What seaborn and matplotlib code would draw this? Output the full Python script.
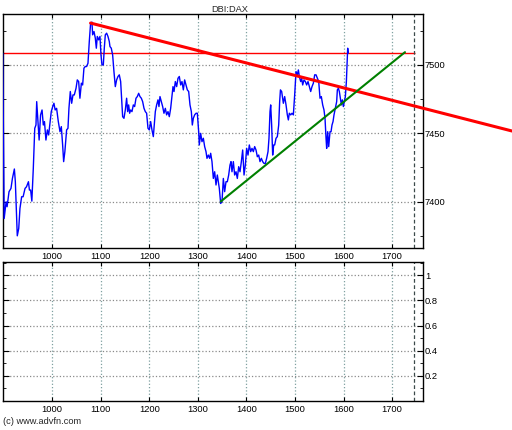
import numpy as np
import pandas as pd
import seaborn as sns
import matplotlib.pyplot as plt
from matplotlib.ticker import FixedLocator, MultipleLocator

# DBI:DAX intraday price path (x = bar number, y = index level)
price_x = [898, 901, 905, 907, 911, 915, 918, 922, 924, 927, 928, 931, 933.5, 937, 940, 944, 947, 951, 953, 955.5,
           958, 961, 964, 966.5, 968, 970.6, 973, 976, 979, 981.6, 984, 987, 990, 992.6, 995, 998, 1001, 1003.5,
           1006, 1009, 1012.5, 1016, 1018.7, 1021.4, 1023.5, 1026, 1029.6, 1032.4, 1034.4, 1037.2, 1040, 1042.7,
           1045.4, 1049, 1051.6, 1054.4, 1057, 1060, 1062.6, 1065.3, 1068, 1070.8, 1073.6, 1076.3, 1079, 1081.8,
           1083.2, 1086, 1088.7, 1090.8, 1092.8, 1095.6, 1098.3, 1100.4, 1102.4, 1105.2, 1107.2, 1109.3, 1112,
           1114.8, 1117.5, 1118.9, 1121.6, 1124.4, 1127.1, 1129.9, 1132.6, 1135.4, 1138.1, 1140.9, 1142.9, 1145,
           1147.7, 1150.5, 1153.2, 1155.3, 1157.4, 1159.4, 1161.5, 1164.2, 1167, 1169.7, 1172.5, 1175.2, 1178,
           1180.7, 1183.5, 1186.2, 1189, 1191.7, 1194.4, 1197.2, 1199.9, 1202.7, 1205.4, 1208.2, 1210.2, 1212.3,
           1215, 1217.8, 1219.8, 1221.9, 1224.7, 1227.4, 1230.1, 1232.9, 1235.6, 1238.4, 1241.1, 1243.9, 1246.6,
           1248.7, 1250.8, 1253.5, 1256.2, 1259, 1261.7, 1264.5, 1267.2, 1270, 1272.7, 1275.5, 1278.2, 1281,
           1283.7, 1286.5, 1288.5, 1290.6, 1293.3, 1296.1, 1298.8, 1301.6, 1302.9, 1305.7, 1308.4, 1311.2, 1313.9,
           1316.7, 1318.7, 1321.5, 1324.2, 1326.3, 1329, 1331.8, 1334.5, 1337.3, 1340, 1342.1, 1344.1, 1346.9,
           1349.6, 1352.4, 1355.1, 1357.9, 1360.6, 1363.4, 1366.1, 1368.2, 1370.2, 1373, 1375.7, 1378.5, 1381.2,
           1384, 1386.7, 1389.5, 1392.2, 1395, 1397.7, 1400.4, 1403.2, 1405.9, 1408.7, 1411.4, 1414.2, 1416.9,
           1419.7, 1422.4, 1425.2, 1427.9, 1430.7, 1433.4, 1436.1, 1438.9, 1441.6, 1444.4, 1446.4, 1448.5, 1449.9,
           1451.9, 1454, 1456.1, 1458.1, 1460.9, 1463.6, 1466.4, 1468.4, 1470, 1472.5, 1476, 1478.7, 1481.5,
           1484.2, 1486.3, 1488.3, 1491.1, 1493.8, 1496.6, 1499.3, 1502.1, 1504.8, 1506.9, 1508.9, 1511.7, 1513.7,
           1515.8, 1518.5, 1521.3, 1524, 1526.8, 1529.5, 1532.3, 1535, 1537.8, 1540.5, 1543.3, 1546, 1548.8,
           1551.5, 1554.2, 1557, 1559.7, 1561.8, 1563.9, 1565.2, 1567.3, 1569.4, 1572.1, 1574.2, 1576.2, 1578.3,
           1580.3, 1583.1, 1585.8, 1587.2, 1589.3, 1591.3, 1593.4, 1595.5, 1597.5, 1599.6, 1601.6, 1603.7, 1605.8,
           1607.1, 1608.5, 1609.5]
price_y = [7508.5, 7387.6, 7399.8, 7396.2, 7407.2, 7409.6, 7416.9, 7423.8, 7414.5, 7385.2, 7374.9, 7380.3, 7394.9,
           7403.5, 7403.5, 7409.6, 7410.8, 7414.5, 7408.4, 7408.4, 7400.3, 7424.3, 7453.6, 7456.0, 7473.1, 7458.5,
           7445.0, 7463.4, 7467.0, 7456.0, 7458.5, 7445.0, 7452.4, 7448.7, 7456.0, 7465.8, 7469.5, 7471.9, 7467.0,
           7468.2, 7458.5, 7451.1, 7454.8, 7441.4, 7429.2, 7436.5, 7452.4, 7453.6, 7468.2, 7480.5, 7471.9, 7478.0,
           7478.0, 7482.9, 7489.0, 7487.8, 7475.6, 7486.6, 7485.3, 7497.6, 7498.8, 7498.8, 7501.2, 7517.1, 7530.5,
           7531.3, 7522.0, 7524.4, 7519.6, 7512.2, 7520.8, 7518.3, 7520.8, 7507.3, 7500.0, 7500.0, 7512.2, 7522.0,
           7523.2, 7520.8, 7517.1, 7513.4, 7512.2, 7507.3, 7495.1, 7484.1, 7489.0, 7491.5, 7492.7, 7487.8, 7475.6,
           7462.1, 7460.9, 7467.0, 7475.6, 7465.8, 7470.7, 7464.6, 7467.0, 7465.8, 7470.7, 7469.5, 7475.6, 7476.8,
           7479.2, 7476.8, 7475.6, 7473.1, 7468.2, 7465.8, 7464.6, 7453.6, 7452.4, 7458.5, 7452.4, 7447.5, 7456.0,
           7465.8, 7470.7, 7474.4, 7469.5, 7476.8, 7473.1, 7469.5, 7464.6, 7468.2, 7463.4, 7465.8, 7462.1, 7468.2,
           7476.8, 7484.1, 7480.5, 7487.8, 7484.1, 7490.2, 7491.5, 7485.3, 7487.8, 7481.7, 7489.0, 7485.3, 7481.7,
           7480.5, 7470.7, 7465.8, 7456.0, 7460.9, 7463.4, 7464.6, 7464.6, 7451.1, 7441.4, 7449.9, 7443.8, 7446.3,
           7440.2, 7436.5, 7431.6, 7434.0, 7431.6, 7435.3, 7429.2, 7416.9, 7421.8, 7412.1, 7419.4, 7414.5, 7409.6,
           7398.6, 7399.8, 7416.9, 7407.2, 7414.5, 7414.5, 7419.4, 7426.7, 7429.2, 7421.8, 7429.2, 7419.4, 7421.8,
           7416.9, 7425.5, 7421.8, 7429.2, 7437.7, 7419.4, 7426.7, 7438.9, 7434.0, 7441.4, 7436.5, 7438.9, 7436.5,
           7440.2, 7437.7, 7432.8, 7434.0, 7429.2, 7431.6, 7429.2, 7427.9, 7427.9, 7431.6, 7436.5, 7446.3, 7465.8,
           7470.7, 7456.0, 7434.0, 7441.4, 7441.4, 7446.3, 7447.5, 7456.0, 7473.1, 7481.7, 7480.5, 7471.9, 7476.8,
           7470.7, 7463.4, 7459.7, 7464.6, 7463.4, 7464.6, 7463.4, 7478.0, 7495.1, 7492.7, 7496.3, 7491.5, 7487.8,
           7490.2, 7485.3, 7489.0, 7487.8, 7485.3, 7487.8, 7484.1, 7480.5, 7484.1, 7486.6, 7492.7, 7492.7, 7490.2,
           7487.8, 7475.6, 7476.8, 7470.7, 7467.0, 7460.9, 7446.3, 7438.9, 7451.1, 7440.2, 7451.1, 7451.1, 7456.0,
           7458.5, 7463.4, 7468.2, 7473.1, 7481.7, 7482.9, 7480.5, 7475.6, 7470.7, 7474.4, 7469.5, 7473.1, 7476.8,
           7487.8, 7500.0, 7512.2, 7508.6]

# trend lines (endpoints) and reference levels
resist_x = [1079, 1947]
resist_y = [7530.6, 7451.6]
support_x = [1347, 1726.5]
support_y = [7400, 7509.3]
last_price = 7508.6
end_bar = 1745.6

x_ticks = [1000, 1100, 1200, 1300, 1400, 1500, 1600, 1700]
price_ticks = [7400, 7450, 7500]
lower_ticks = [0.2, 0.4, 0.6, 0.8, 1.0]
lower_labels = ['0.2', '0.4', '0.6', '0.8', '1']

sns.set_style("white")
plt.rcParams['font.family'] = ['Liberation Sans', 'DejaVu Sans']
fs = 6.7

fig = plt.figure(figsize=(5.12, 4.3), dpi=100)
ax1 = fig.add_axes([0.0053, 0.4233, 0.8203, 0.5434])
ax2 = fig.add_axes([0.0053, 0.0674, 0.8203, 0.3226])

df = pd.DataFrame({'bar': price_x, 'price': price_y})
sns.lineplot(data=df, x='bar', y='price', ax=ax1, color='#0000ff', lw=1.0,
             estimator=None, sort=False, zorder=3)
sns.lineplot(x=resist_x, y=resist_y, ax=ax1, color='#ff0000', lw=2.2,
             estimator=None, clip_on=False, zorder=4)
sns.lineplot(x=support_x, y=support_y, ax=ax1, color='#008000', lw=1.5,
             estimator=None, zorder=4)
ax1.hlines(last_price, price_x[0], 1747, color='#ff0000', lw=1.0, zorder=2)

for ax in (ax1, ax2):
    ax.set_xlim(898, 1763)
    ax.xaxis.set_major_locator(FixedLocator(x_ticks))
    ax.axvline(end_bar, color='#3c4a4a', ls=(0, (3, 2)), lw=0.9, zorder=2)
    ax.xaxis.grid(True, ls=':', color='#7fa0a0', lw=0.9)
    ax.yaxis.grid(True, ls=':', color='#8a8a8a', lw=0.9)
    ax.tick_params(which='both', direction='in', top=True, bottom=True, left=True, right=True,
                   labelleft=False, labelright=True, labelsize=fs, colors='black')
    ax.tick_params(axis='x', which='major', length=3, pad=3)
    ax.tick_params(axis='y', which='major', length=4, pad=1.5)
    ax.tick_params(axis='y', which='minor', length=2.5)
    ax.set_xlabel('')
    ax.set_ylabel('')
    for sp in ax.spines.values():
        sp.set_visible(True)
        sp.set_color('black')
        sp.set_linewidth(1.0)

ax1.set_ylim(7366, 7537)
ax1.yaxis.set_major_locator(FixedLocator(price_ticks))
ax1.yaxis.set_minor_locator(MultipleLocator(25))

ax2.set_ylim(0, 1.104)
ax2.set_yticks(lower_ticks)
ax2.set_yticklabels(lower_labels)
ax2.yaxis.set_minor_locator(MultipleLocator(0.1))

fig.text(230 / 512, 1 - 9 / 430, 'DBI:DAX', ha='center', va='center', fontsize=fs)
fig.text(3 / 512, 1 - 421.7 / 430, '(c) www.advfn.com', ha='left', va='center', fontsize=fs)

plt.savefig('out.png', dpi=100)
